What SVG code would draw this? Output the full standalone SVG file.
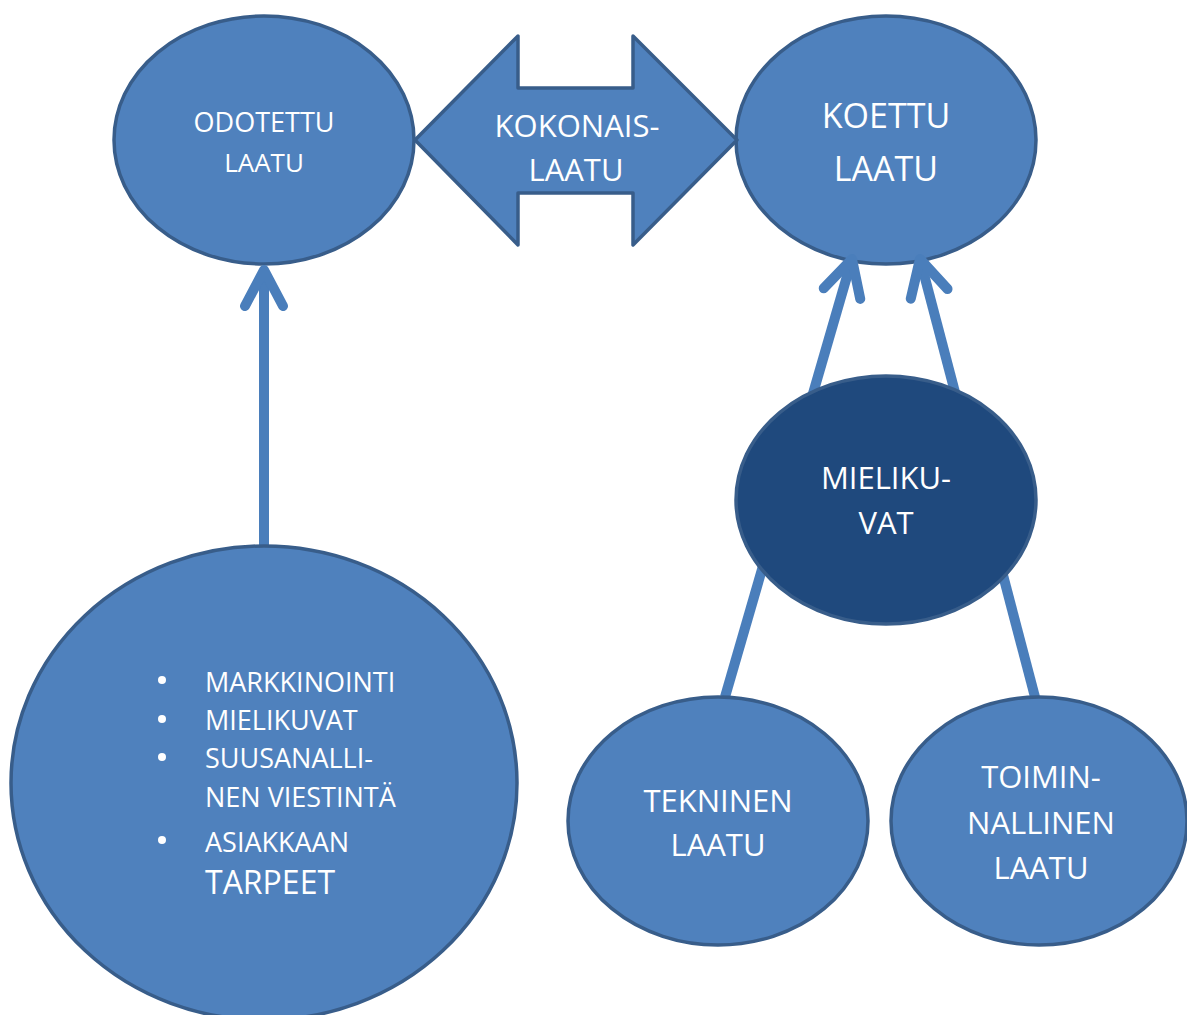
<svg xmlns="http://www.w3.org/2000/svg" width="1187" height="1015" viewBox="0 0 1187 1015">
  <style>
    .node { fill: #4f81bd; stroke: #385d8a; stroke-width: 3.5; }
    .dark { fill: #1f497d; stroke: #385d8a; stroke-width: 3.5; }
    .lbl { fill: #ffffff; font-family: "Open Sans", "Liberation Sans", sans-serif; text-anchor: middle; }
    .lst { fill: #ffffff; font-family: "Open Sans", "Liberation Sans", sans-serif; }
    .conn { stroke: #4a7ebb; stroke-width: 10; fill: none; }
  </style>
  <defs>
    <marker id="open" markerUnits="userSpaceOnUse" viewBox="-50 -30 60 60" markerWidth="60" markerHeight="60" refX="0" refY="0" orient="auto" overflow="visible">
      <path d="M-36,-19 L0,0 L-36,19" fill="none" stroke="#4a7ebb" stroke-width="10" stroke-linecap="round" stroke-linejoin="round"/>
    </marker>
  </defs>
  <rect width="1187" height="1015" fill="#ffffff"/>

  <g id="odotettu">
    <ellipse class="node" cx="264" cy="140" rx="150" ry="124"/>
    <text class="lbl" x="264" y="132" font-size="27">ODOTETTU</text>
    <text class="lbl" x="264" y="172" font-size="26">LAATU</text>
  </g>

  <g id="koettu">
    <ellipse class="node" cx="886" cy="140" rx="150" ry="124"/>
    <text class="lbl" x="886" y="128" font-size="34">KOETTU</text>
    <text class="lbl" x="886" y="181" font-size="34">LAATU</text>
  </g>

  <g id="kokonaislaatu">
    <polygon class="node" stroke-linejoin="round" points="415,140 518,36 518,88 633,88 633,36 737,140 633,245 633,193 518,193 518,245"/>
    <text class="lbl" x="577" y="137" font-size="31">KOKONAIS-</text>
    <text class="lbl" x="576" y="181" font-size="31">LAATU</text>
  </g>

  <g id="connectors">
    <line class="conn" x1="264" y1="546" x2="264" y2="270" marker-end="url(#open)"/>
    <line class="conn" x1="725" y1="697" x2="852" y2="259" marker-end="url(#open)"/>
    <line class="conn" x1="1035" y1="697" x2="920" y2="259" marker-end="url(#open)"/>
  </g>

  <g id="mielikuvat">
    <ellipse class="dark" cx="886" cy="500" rx="150" ry="124"/>
    <text class="lbl" x="886" y="489" font-size="31">MIELIKU-</text>
    <text class="lbl" x="886" y="534" font-size="31">VAT</text>
  </g>

  <g id="tekninen">
    <ellipse class="node" cx="718" cy="821" rx="150" ry="124"/>
    <text class="lbl" x="718" y="812" font-size="31">TEKNINEN</text>
    <text class="lbl" x="718" y="856" font-size="31">LAATU</text>
  </g>

  <g id="toiminnallinen">
    <ellipse class="node" cx="1039" cy="821" rx="148" ry="124"/>
    <text class="lbl" x="1041" y="788" font-size="31">TOIMIN-</text>
    <text class="lbl" x="1041" y="834" font-size="31">NALLINEN</text>
    <text class="lbl" x="1041" y="879" font-size="31">LAATU</text>
  </g>

  <g id="tekijat">
    <ellipse class="node" cx="264" cy="783" rx="253" ry="237"/>
    <circle cx="162" cy="680" r="4" fill="#ffffff"/>
    <circle cx="162" cy="719" r="4" fill="#ffffff"/>
    <circle cx="162" cy="757" r="4" fill="#ffffff"/>
    <circle cx="162" cy="840" r="4" fill="#ffffff"/>
    <text class="lst" x="205" y="692" font-size="27">MARKKINOINTI</text>
    <text class="lst" x="205" y="730" font-size="27">MIELIKUVAT</text>
    <text class="lst" x="205" y="768" font-size="27">SUUSANALLI-</text>
    <text class="lst" x="205" y="807" font-size="27">NEN VIESTINTÄ</text>
    <text class="lst" x="205" y="852" font-size="27">ASIAKKAAN</text>
    <text class="lst" x="205" y="894" font-size="32">TARPEET</text>
  </g>
</svg>
